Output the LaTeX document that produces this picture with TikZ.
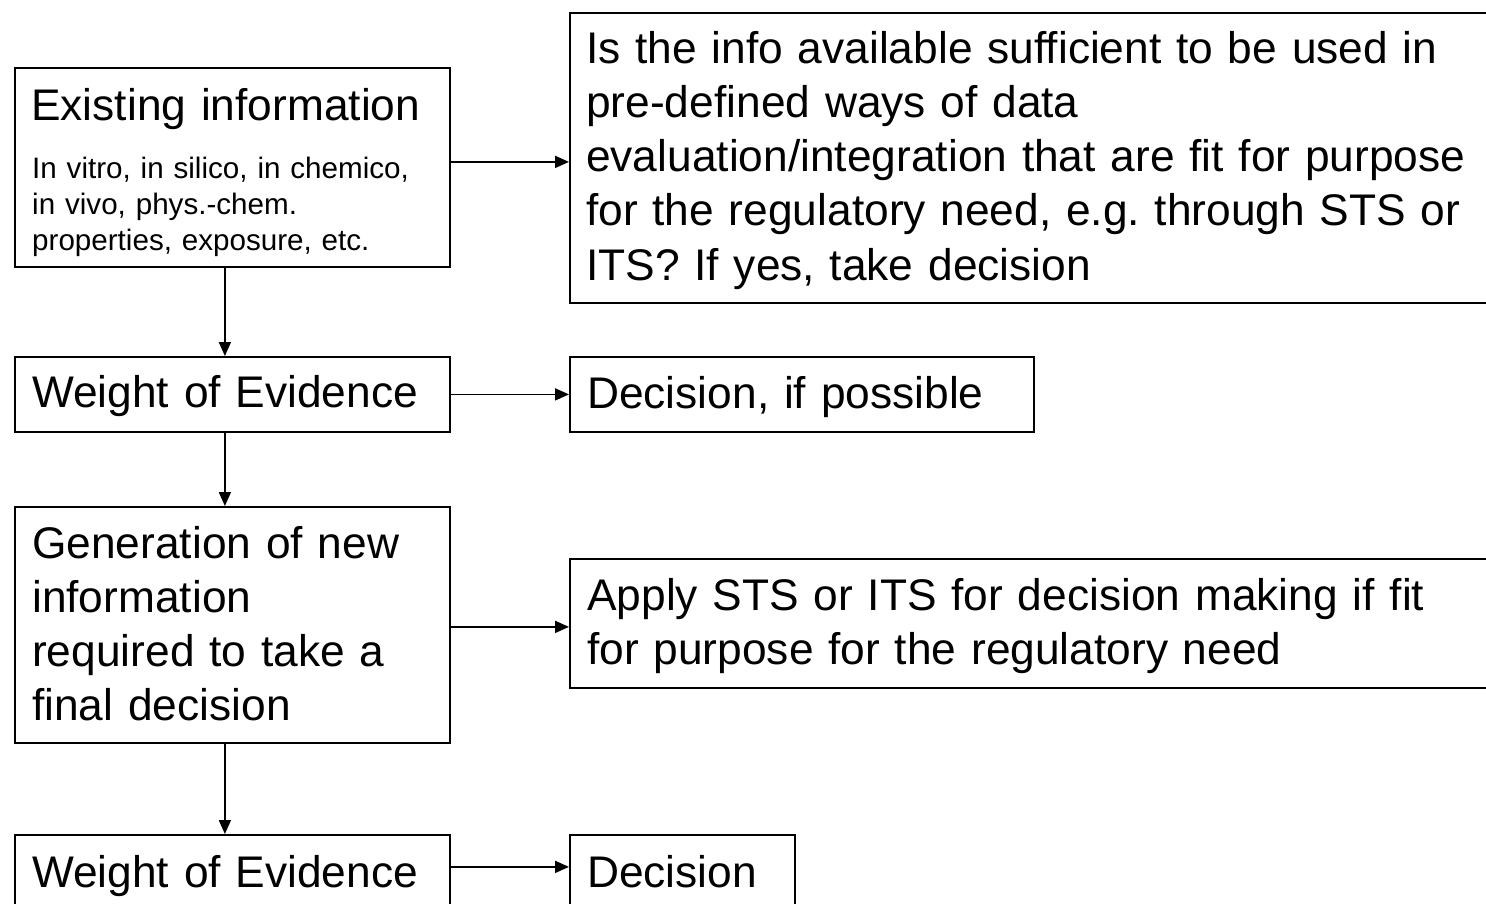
\documentclass[tikz,border=0pt]{standalone}
\usepackage{fontspec}
\setmainfont{Liberation Sans}[Ligatures=NoCommon]
\usetikzlibrary{arrows.meta}
\begin{document}
\frenchspacing
\begin{tikzpicture}[x=1pt,y=1pt,
  boxnode/.style={draw=black, line width=1.8pt, rectangle, inner sep=0pt, anchor=north west},
  bigtxt/.style={inner sep=0pt, anchor=base west, text width=1000pt, align=left,
                 font=\fontsize{44.3}{54.3}\selectfont\frenchspacing},
  smalltxt/.style={inner sep=0pt, anchor=base west, text width=600pt, align=left,
                 font=\fontsize{29.6}{36}\selectfont\frenchspacing},
  arr/.style={draw=black, line width=1.8pt, -{Triangle[length=14pt,width=12pt]}}
]
\path[use as bounding box, clip] (0,0) rectangle (1486,-903);

% boxes
\node[boxnode, minimum width=435pt, minimum height=199pt] (A) at (14,-67) {};
\node[boxnode, minimum width=940pt, minimum height=290pt] (B) at (569,-12) {};
\node[boxnode, minimum width=435pt, minimum height=75pt] (C) at (14,-356) {};
\node[boxnode, minimum width=464pt, minimum height=75pt] (D) at (569,-356) {};
\node[boxnode, minimum width=435pt, minimum height=236pt] (E) at (14,-506) {};
\node[boxnode, minimum width=940pt, minimum height=129pt] (F) at (569,-558) {};
\node[boxnode, minimum width=435pt, minimum height=100pt] (G) at (14,-834) {};
\node[boxnode, minimum width=225pt, minimum height=100pt] (H) at (569,-834) {};

% texts
\node[bigtxt] (At) at (31,-120) {Existing information};
\node[smalltxt] (As) at (32,-178) {In vitro, in silico, in chemico,\\in vivo, phys.-chem.\\properties, exposure, etc.};
\node[bigtxt] (Bt) at (586,-63) {Is the info available sufficient to be used in\\pre-defined ways of data\\evaluation/integration that are fit for purpose\\for the regulatory need, e.g. through STS or\\ITS? If yes, take decision};
\node[bigtxt] (Ct) at (32,-407) {Weight of Evidence};
\node[bigtxt] (Dt) at (587,-408) {Decision, if possible};
\node[bigtxt] (Et) at (32,-558) {Generation of new\\information\\required to take a\\final decision};
\node[bigtxt] (Ft) at (587,-610) {Apply STS or ITS for decision making if fit\\for purpose for the regulatory need};
\node[bigtxt] (Gt) at (32,-887) {Weight of Evidence};
\node[bigtxt] (Ht) at (587,-887) {Decision};

% connectors
\draw[arr] ([yshift=5.5pt]A.east) -- ([yshift=-4pt]B.west);
\draw[arr] ([xshift=-7.5pt]A.south) -- ([xshift=-7.5pt]C.north);
\draw[arr] (C.east) -- (D.west);
\draw[arr] ([xshift=-7.5pt]C.south) -- ([xshift=-7.5pt]E.north);
\draw[arr] ([yshift=-2pt]E.east) -- ([yshift=-3.5pt]F.west);
\draw[arr] ([xshift=-7.5pt]E.south) -- ([xshift=-7.5pt]G.north);
\draw[arr] ([yshift=18pt]G.east) -- ([yshift=18pt]H.west);
\end{tikzpicture}
\end{document}
